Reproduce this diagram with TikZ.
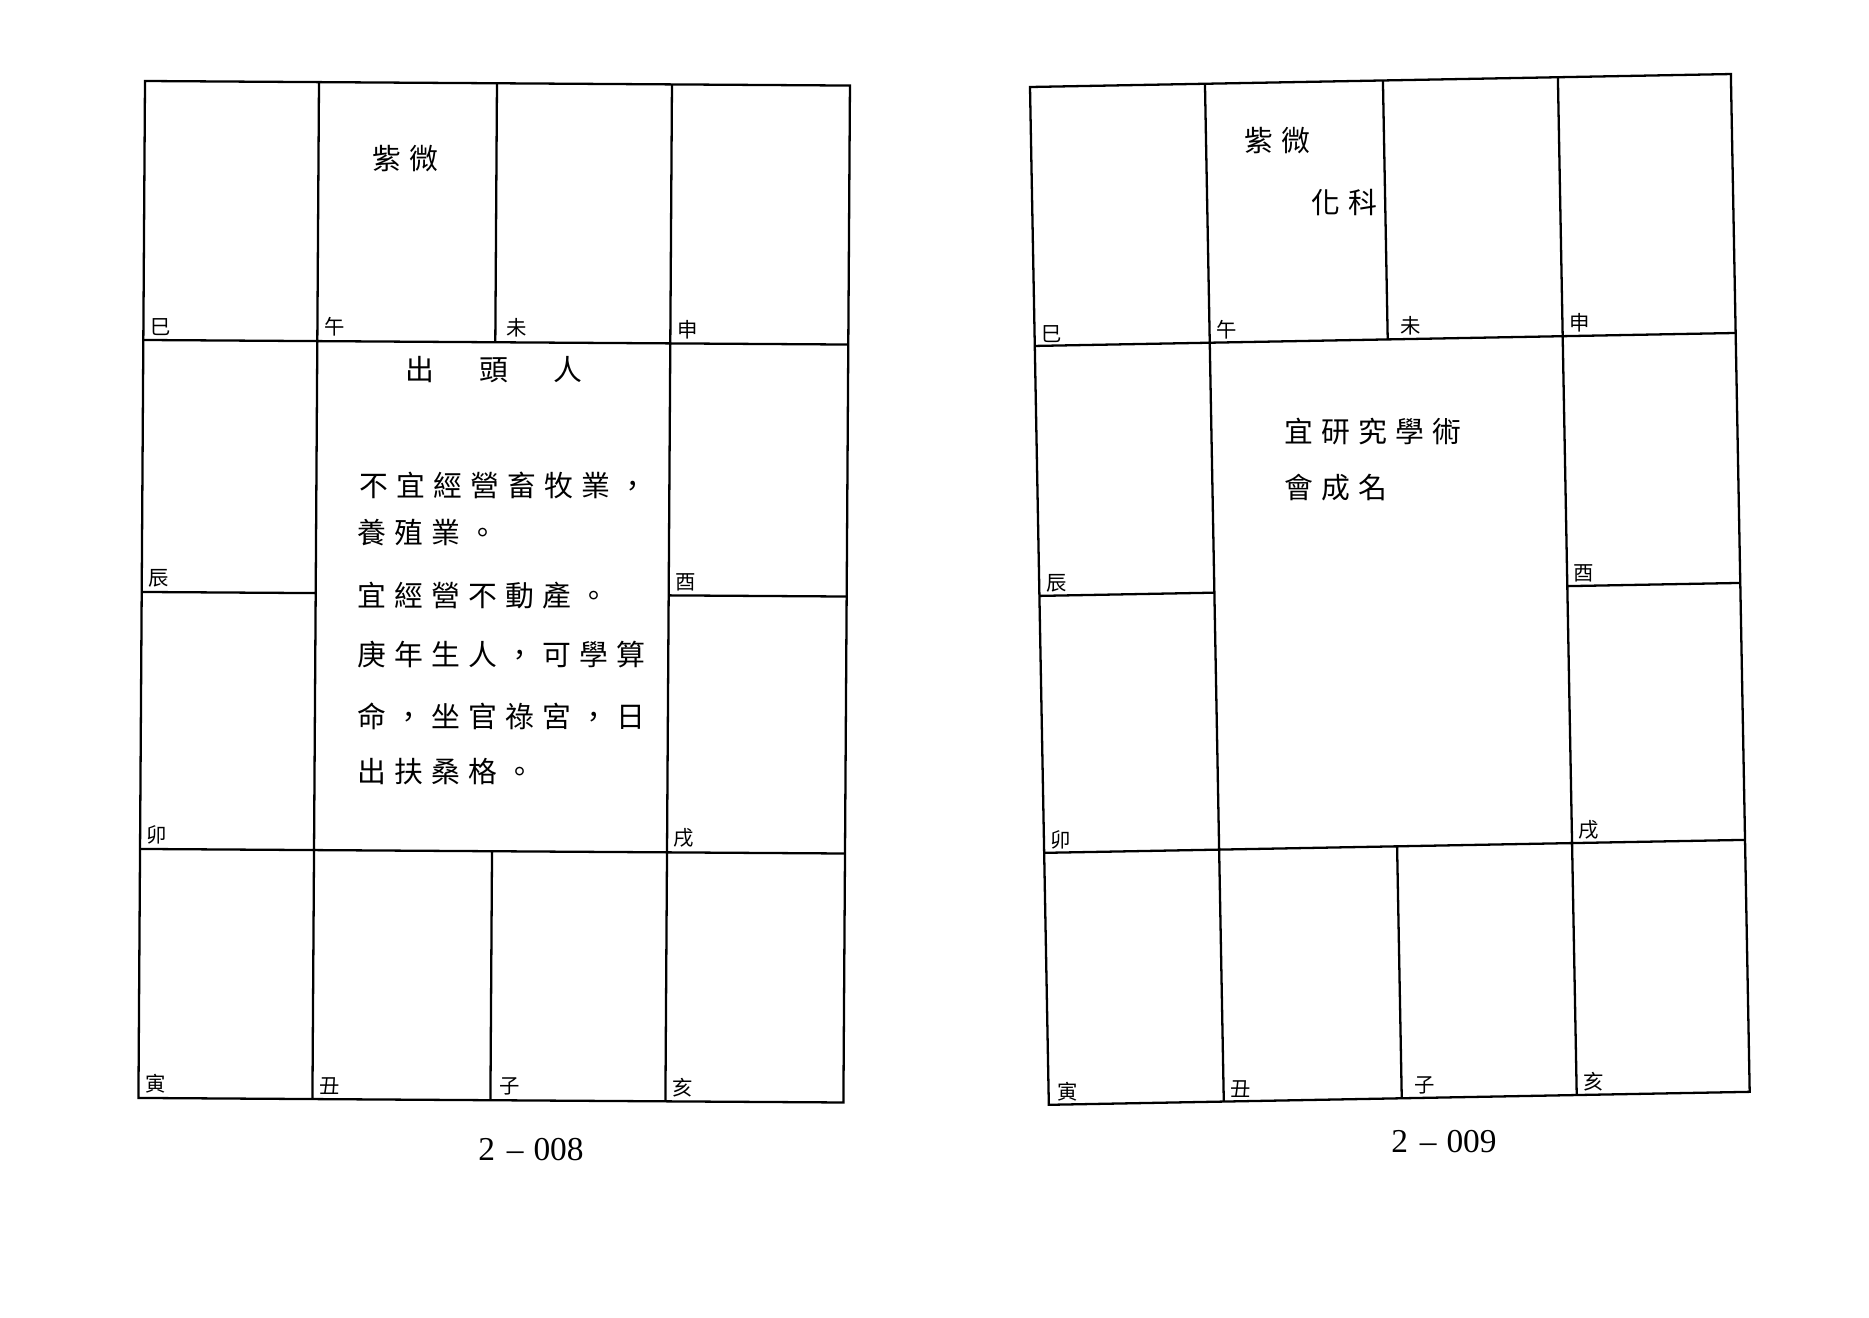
\documentclass[tikz,border=0pt]{standalone}
\usepackage{fontspec}
\setmainfont{Liberation Serif}
\newfontfamily\cjk{Noto Sans CJK TC}
\newfontfamily\cjkwide[LetterSpace=28]{Noto Sans CJK TC}
\usetikzlibrary{positioning}

\begin{document}
\begin{tikzpicture}[x=0.01cm, y=-0.01cm,
    chart/.style={line width=0.65pt},
    branch/.style={anchor=south west, inner sep=0pt, font=\cjk\fontsize{5.8}{6}\selectfont},
    words/.style={anchor=west, inner sep=0pt, font=\cjkwide\fontsize{8.2}{9}\selectfont},
    pageno/.style={inner sep=0pt, font=\fontsize{9.5}{11}\selectfont}]
    \useasboundingbox (0,0) rectangle (1869,1318);

    % left page: chart 2-008
    \begin{scope}[shift={(145,81)}, rotate=-0.37]
        \draw[chart] (0,0) -- (705,0) -- (705,1017) -- (0,1017) -- cycle;
        \draw[chart]
        (0,259) -- (705,259)
        (0,768) -- (705,768)
        (0,511) -- (174,511) (527,511) -- (705,511)
        (174,0) -- (174,1017)
        (527,0) -- (527,1017)
        (352,0) -- (352,259) (352,768) -- (352,1017);

        \node[branch] (lsi) at (6,255) {巳};
        \node[branch] (lwu) at (180,255) {午};
        \node[branch] (lwei) at (362,255) {未};
        \node[branch] (lshen) at (533,255) {申};
        \node[branch] (lchen) at (6,507) {辰};
        \node[branch] (lyou) at (533,507) {酉};
        \node[branch] (lmao) at (6,764) {卯};
        \node[branch] (lxu) at (533,764) {戌};
        \node[branch] (lyin) at (6,1013) {寅};
        \node[branch] (lchou) at (180,1013) {丑};
        \node[branch] (lzi) at (360,1013) {子};
        \node[branch] (lhai) at (533,1013) {亥};
    \end{scope}

    \node[words] (lstar) at (372,159) {紫微};
    \node[words, anchor=center] (ltitle) at (494,370) {出　頭　人};
    \node[words] (lline1) at (359,485) {不宜經營畜牧業，};
    \node[words] (lline2) at (357,533) {養殖業。};
    \node[words] (lline3) at (357,596) {宜經營不動產。};
    \node[words] (lline4) at (357,655) {庚年生人，可學算};
    \node[words] (lline5) at (357,716) {命，坐官祿宮，日};
    \node[words] (lline6) at (357,772) {出扶桑格。};
    \node[pageno] (lpage) at (531,1150) {2\hspace{0.35em}--\hspace{0.3em}008};

    % right page: chart 2-009
    \begin{scope}[shift={(1030,87)}, rotate=1.06]
        \draw[chart] (0,0) -- (701,0) -- (701,1018) -- (0,1018) -- cycle;
        \draw[chart]
        (0,259) -- (701,259)
        (0,766) -- (701,766)
        (0,509) -- (175,509) (528,509) -- (701,509)
        (175,0) -- (175,1018)
        (528,0) -- (528,1018)
        (353,0) -- (353,259) (353,766) -- (353,1018);

        \node[branch] (rsi) at (6,256) {巳};
        \node[branch] (rwu) at (181,256) {午};
        \node[branch] (rwei) at (365,256) {未};
        \node[branch] (rshen) at (534,256) {申};
        \node[branch] (rchen) at (6,506) {辰};
        \node[branch] (ryou) at (534,506) {酉};
        \node[branch] (rmao) at (6,763) {卯};
        \node[branch] (rxu) at (534,763) {戌};
        \node[branch] (ryin) at (8,1015) {寅};
        \node[branch] (rchou) at (181,1015) {丑};
        \node[branch] (rzi) at (365,1015) {子};
        \node[branch] (rhai) at (534,1015) {亥};
    \end{scope}

    \node[words] (rstar) at (1244,141) {紫微};
    \node[words] (rsihua) at (1311,203) {化科};
    \node[words] (rline1) at (1284,432) {宜研究學術};
    \node[words] (rline2) at (1284,488) {會成名};
    \node[pageno] (rpage) at (1444,1142) {2\hspace{0.35em}--\hspace{0.3em}009};
\end{tikzpicture}
\end{document}
